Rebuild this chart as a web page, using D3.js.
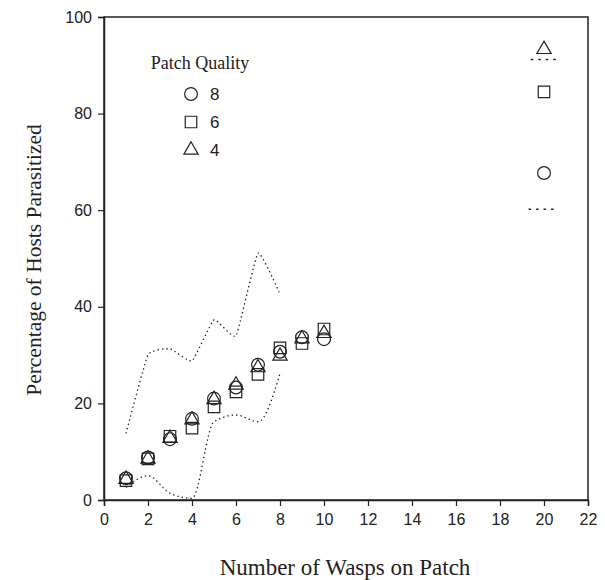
<!DOCTYPE html>
<html><head><meta charset="utf-8">
<script src="https://cdn.jsdelivr.net/npm/d3@7"></script>
<style>body{margin:0;background:#fff}</style>
</head><body>
<svg id="c" width="605" height="580"></svg>
<script>
const wasps = [1,2,3,4,5,6,7,8,9,10,20];
const q8 = [4.5,8.8,12.6,16.8,21.0,23.3,28.0,30.7,33.7,33.3,67.7];
const q6 = [4.0,8.5,13.2,14.9,19.3,22.4,26.0,31.5,32.4,35.4,84.5];
const q4 = [4.3,8.5,12.8,16.6,20.8,23.8,27.4,29.8,33.4,34.5,93.3];
const bandX = [1,2,3,4,5,6,7,8];
const upper = [13.8,30.0,31.3,28.8,37.3,34.0,51.1,42.6];
const lower = [2.6,5.0,1.4,0.35,16.2,17.6,16.2,26.2];
const ci20X = [[19.4,20.7],[19.3,20.5]];
const ci20Y = [91.2,60.2];
const xTicks = d3.range(0,23,2);
const yTicks = [0,20,40,60,80,100];

const svg = d3.select('#c');
const x = d3.scaleLinear().domain([0,22]).range([104,588]);
const y = d3.scaleLinear().domain([0,100]).range([500,17]);
const ink = '#222';

svg.append('rect').attr('x',104).attr('y',17).attr('width',484).attr('height',483)
  .attr('fill','none').attr('stroke',ink).attr('stroke-width',1.5);

const xa = svg.append('g').attr('transform','translate(0,500)')
  .call(d3.axisBottom(x).tickValues(xTicks).tickSize(6).tickPadding(8).tickFormat(d3.format('d')));
const ya = svg.append('g').attr('transform','translate(104,0)')
  .call(d3.axisLeft(y).tickValues(yTicks).tickSize(6).tickPadding(6).tickFormat(d3.format('d')));
[xa,ya].forEach(a=>{
  a.select('.domain').attr('stroke',ink).attr('stroke-width',1.5);
  a.selectAll('.tick line').attr('stroke',ink).attr('stroke-width',1.2);
  a.selectAll('text').attr('font-family','Liberation Sans, Arial, sans-serif')
   .attr('font-size',16).attr('fill',ink);
});

const lineU = d3.line().x((d,i)=>x(bandX[i])).y(d=>y(d)).curve(d3.curveCardinal.tension(0.6));
const lineL = d3.line().x((d,i)=>x(bandX[i])).y(d=>y(d)).curve(d3.curveMonotoneX);
[[upper,lineU],[lower,lineL]].forEach(([arr,ln])=>{
  svg.append('path').attr('d',ln(arr)).attr('fill','none').attr('stroke',ink)
    .attr('stroke-width',1.3).attr('stroke-dasharray','1.4,3');
});
ci20Y.forEach((v,i)=>{
  svg.append('line').attr('x1',x(ci20X[i][0])).attr('x2',x(ci20X[i][1]))
    .attr('y1',y(v)).attr('y2',y(v)).attr('stroke',ink).attr('stroke-width',1.4)
    .attr('stroke-dasharray','2.5,5');
});

const sym = {
  c: d3.symbol().type(d3.symbolCircle).size(128),
  s: d3.symbol().type(d3.symbolSquare).size(132),
  t: d3.symbol().type(d3.symbolTriangle).size(88)
};
function drawSeries(vals, s){
  svg.append('g').selectAll('path').data(vals).join('path')
    .attr('d',sym[s]()).attr('transform',(d,i)=>`translate(${x(wasps[i])},${y(d)})`)
    .attr('fill','none').attr('stroke',ink).attr('stroke-width',1.2);
}
drawSeries(q6,'s');
drawSeries(q8,'c');
drawSeries(q4,'t');

svg.append('text').attr('x',200).attr('y',69).attr('text-anchor','middle').text('Patch Quality')
  .attr('font-family','Liberation Serif, Times New Roman, serif').attr('font-size',18).attr('fill',ink);
const legend = [['c','8'],['s','6'],['t','4']];
legend.forEach((l,i)=>{
  const cy = 94 + i*28;
  svg.append('path').attr('d',sym[l[0]]()).attr('transform',`translate(191,${cy})`)
    .attr('fill','none').attr('stroke',ink).attr('stroke-width',1.2);
  svg.append('text').attr('x',210).attr('y',cy+6).text(l[1])
    .attr('font-family','Liberation Sans, Arial, sans-serif').attr('font-size',17).attr('fill',ink);
});

svg.append('text').attr('x',345).attr('y',575).attr('text-anchor','middle')
  .text('Number of Wasps on Patch')
  .attr('font-family','Liberation Serif, Times New Roman, serif').attr('font-size',23).attr('fill',ink);
svg.append('text').attr('transform','translate(41,260) rotate(-90)').attr('text-anchor','middle')
  .text('Percentage of Hosts Parasitized')
  .attr('font-family','Liberation Serif, Times New Roman, serif').attr('font-size',21.5).attr('fill',ink);
</script>
</body></html>
